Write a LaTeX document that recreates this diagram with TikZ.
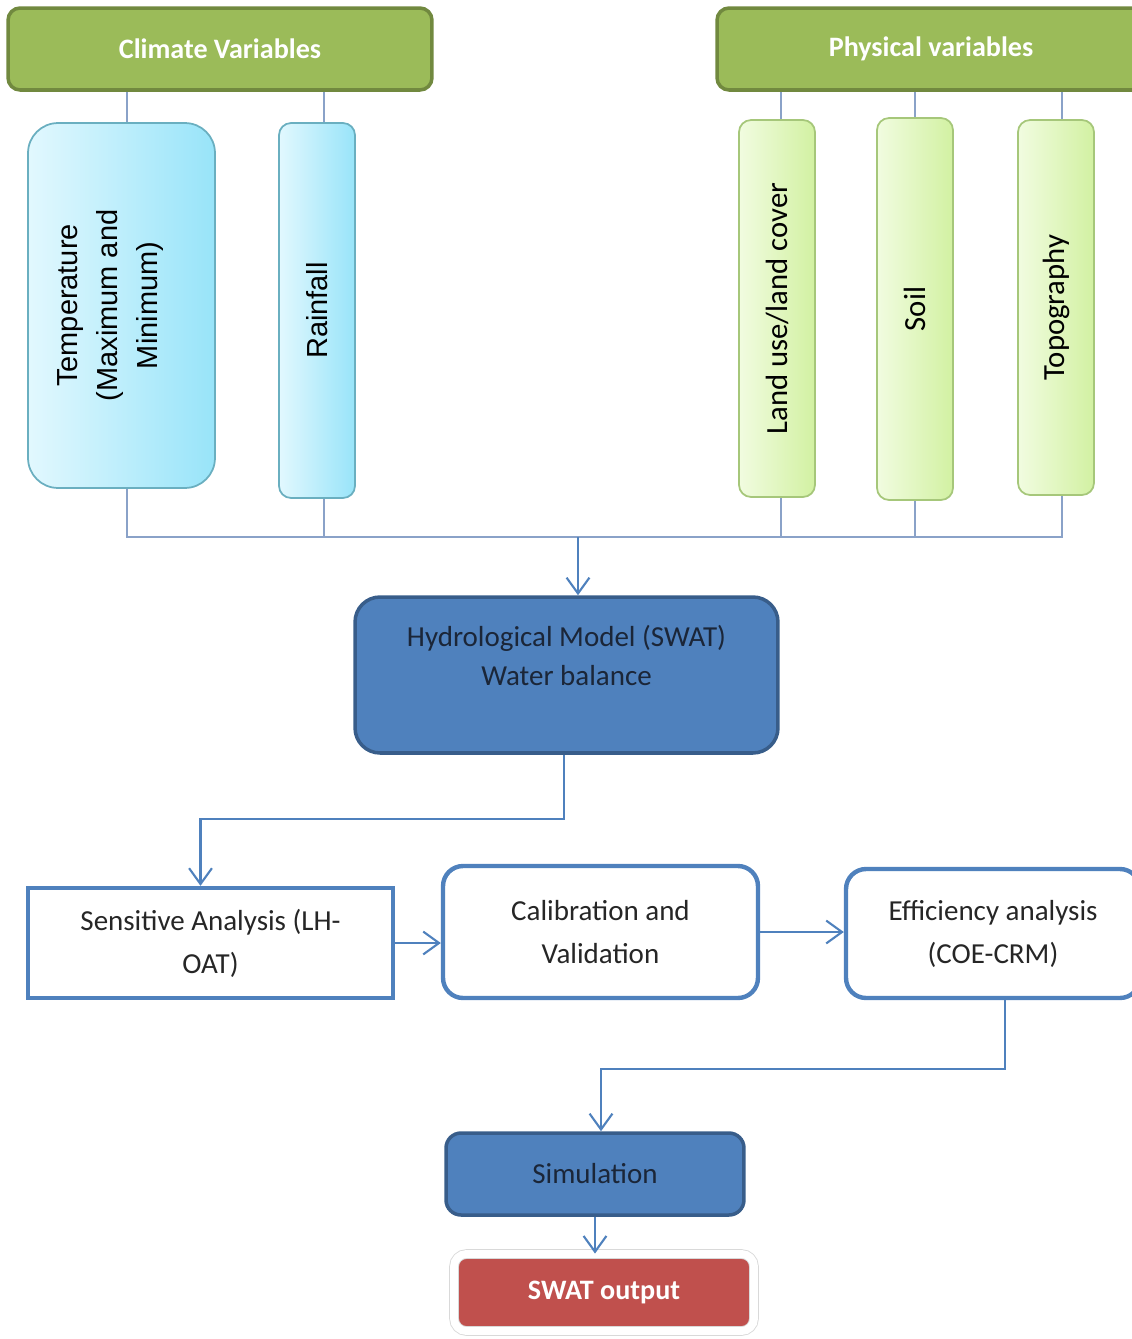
\documentclass[tikz,border=0pt]{standalone}
\usepackage{fontspec}
\setmainfont{Carlito}
\newfontfamily\arialfont{Liberation Sans}
\usepackage{graphicx}
\usetikzlibrary{arrows.meta}

\definecolor{hdgreen}{HTML}{9BBB59}
\definecolor{hdgreenline}{HTML}{71893F}
\definecolor{swatblue}{HTML}{4F81BD}
\definecolor{swatblueline}{HTML}{385D8A}
\definecolor{swatred}{HTML}{C0504D}
\definecolor{tieline}{HTML}{8AA2C8}
\definecolor{navytext}{HTML}{1B2638}
\definecolor{cyanlight}{HTML}{E2F8FE}
\definecolor{cyandeep}{HTML}{98E4F9}
\definecolor{cyanline}{HTML}{6AAFC0}
\definecolor{limelight}{HTML}{F1FCE0}
\definecolor{limedeep}{HTML}{D2F1A2}
\definecolor{limeline}{HTML}{A6C77A}

\begin{document}
\begin{tikzpicture}[x=0.02cm,y=-0.02cm,
    header/.style={draw=hdgreenline,line width=2pt,fill=hdgreen,rounded corners=0.24cm,
        text=white,font=\fontsize{16}{19}\selectfont\bfseries},
    cyanbox/.style={draw=cyanline,line width=1pt,left color=cyanlight,right color=cyandeep,
        rounded corners=0.24cm,font=\arialfont\fontsize{16.5}{22.7}\selectfont},
    limebox/.style={draw=limeline,line width=1pt,left color=limelight,right color=limedeep,
        rounded corners=0.24cm,minimum width=1.52cm,font=\fontsize{17.5}{21}\selectfont},
    bluebox/.style={draw=swatblueline,line width=2pt,fill=swatblue,text=navytext,align=center,
        font=\fontsize{16.5}{22}\selectfont},
    whitebox/.style={draw=swatblue,line width=2.5pt,fill=white,text=black!85,align=center,
        font=\fontsize{16.5}{24.4}\selectfont},
    tie/.style={draw=tieline,line width=1.1pt},
    flow/.style={draw=swatblue,line width=1.2pt,-{Straight Barb[length=9pt,width=13pt]}}]
    \useasboundingbox (0,0) rectangle (1132,1339);

    \node[header,minimum width=8.48cm,minimum height=1.64cm] (clim) at (220,49) {Climate Variables};
    \node[header,minimum width=8.56cm,minimum height=1.64cm] (phys) at (931,49) {Physical variables};

    \node[cyanbox,minimum width=3.74cm,minimum height=7.3cm,rounded corners=0.6cm] (temp) at (121.5,305.5)
        {\rotatebox{90}{\begin{tabular}{@{}c@{}}Temperature\\(Maximum and\\Minimum)\end{tabular}}\kern14pt};
    \node[cyanbox,minimum width=1.52cm,minimum height=7.5cm] (rain) at (317,310.5) {\rotatebox{90}{Rainfall}};

    \node[limebox,minimum height=7.54cm] (land) at (777,308.5) {\rotatebox{90}{Land use/land cover}};
    \node[limebox,minimum height=7.64cm] (soil) at (915,309) {\rotatebox{90}{Soil}};
    \node[limebox,minimum height=7.5cm] (topo) at (1056,307.5) {\rotatebox{90}{Topography}};

    \node[bluebox,minimum width=8.46cm,minimum height=3.12cm,rounded corners=0.5cm] (hydro) at (566.5,675)
        {Hydrological Model (SWAT)\\Water balance\\ \mbox{}};

    \node[whitebox,minimum width=7.3cm,minimum height=2.2cm] (sens) at (210.5,943) {Sensitive Analysis (LH-\\OAT)};
    \node[whitebox,minimum width=6.3cm,minimum height=2.64cm,rounded corners=0.4cm] (calib) at (600.5,932)
        {Calibration and\\Validation};
    \node[whitebox,minimum width=5.88cm,minimum height=2.58cm,rounded corners=0.4cm] (eff) at (993,933.5)
        {Efficiency analysis\\(COE-CRM)};

    \node[bluebox,minimum width=5.96cm,minimum height=1.64cm,rounded corners=0.3cm] (sim) at (595,1174) {Simulation};
    \node[draw=black!15,line width=0.5pt,double=white,double distance=4.5pt,fill=swatred,text=white,
        rounded corners=0.25cm,minimum width=6cm,minimum height=1.54cm,
        font=\fontsize{16}{19}\selectfont\bfseries] (out) at (604,1292.5) {SWAT output};

    \draw[tie] ([xshift=0.11cm]temp.north) -- ([xshift=0.11cm]temp.north |- clim.south);
    \draw[tie] ([xshift=0.14cm]rain.north) -- ([xshift=0.14cm]rain.north |- clim.south);
    \draw[tie] ([xshift=0.08cm]land.north) -- ([xshift=0.08cm]land.north |- phys.south);
    \draw[tie] (soil.north) -- (soil.north |- phys.south);
    \draw[tie] ([xshift=0.12cm]topo.north) -- ([xshift=0.12cm]topo.north |- phys.south);

    \coordinate (bus) at (578,537);
    \draw[tie] ([xshift=0.11cm]temp.south) -- ([xshift=0.11cm]temp.south |- bus)
        -- ([xshift=0.12cm]topo.south |- bus) -- ([xshift=0.12cm]topo.south);
    \draw[tie] ([xshift=0.14cm]rain.south) -- ([xshift=0.14cm]rain.south |- bus);
    \draw[tie] ([xshift=0.08cm]land.south) -- ([xshift=0.08cm]land.south |- bus);
    \draw[tie] (soil.south) -- (soil.south |- bus);

    \draw[flow] (bus) -- (bus |- hydro.north);
    \draw[flow] ([xshift=-0.05cm]hydro.south) -- ++(0,64) -| ([xshift=-0.2cm]sens.north);
    \draw[flow] (sens.east) -- (sens.east -| calib.west);
    \draw[flow] (calib.east) -- (calib.east -| eff.west);
    \draw[flow] ([xshift=0.24cm]eff.south) -- ++(0,69) -| ([xshift=0.12cm]sim.north);
    \draw[flow] (sim.south) -- (sim.south |- out.north);
\end{tikzpicture}
\end{document}
